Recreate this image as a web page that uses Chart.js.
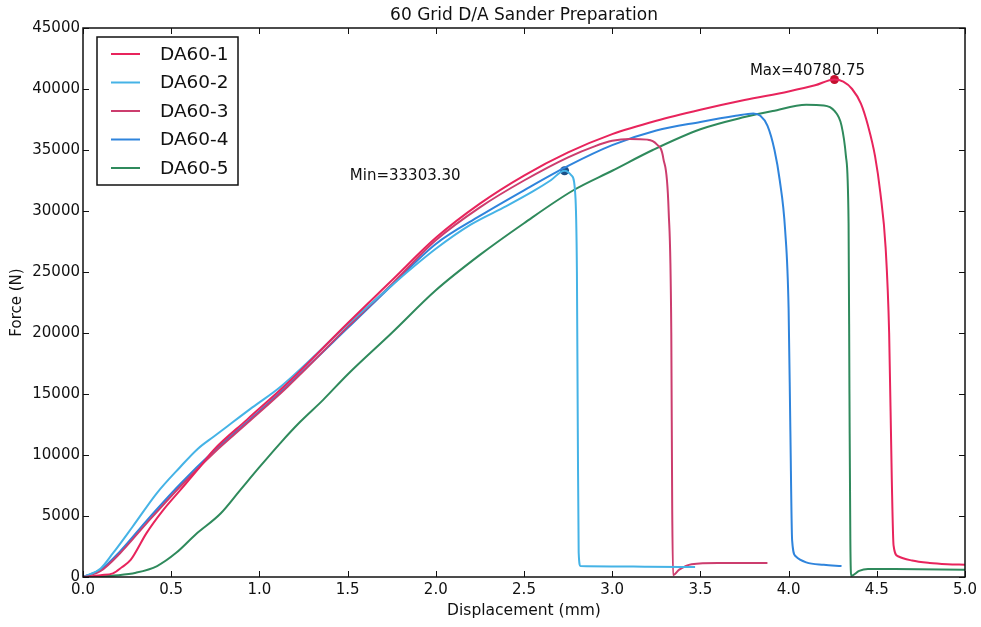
<!DOCTYPE html>
<html>
<head>
<meta charset="utf-8">
<script src="https://cdn.jsdelivr.net/npm/chart.js@4/dist/chart.umd.min.js"></script>
<style>
  html, body { margin: 0; padding: 0; background: #fff; }
  #wrap { width: 981px; height: 627px; }
</style>
</head>
<body>
<div id="wrap"><canvas id="forceChart" width="981" height="627"></canvas></div>
<script>
const chartTitle = "60 Grid D/A Sander Preparation";
const xLabel = "Displacement (mm)";
const yLabel = "Force (N)";
const seriesNames = ["DA60-1", "DA60-2", "DA60-3", "DA60-4", "DA60-5"];
const seriesColors = ["#e8245c", "#45b3e6", "#cc3d6e", "#2f84dc", "#2f8a5c"];

// displacement (mm) / force (N) per specimen
const da601X = [0, 0.1, 0.17, 0.22, 0.27, 0.36, 0.45, 0.55, 0.65, 0.74, 0.93, 1.16, 1.5, 1.75, 2.0, 2.25, 2.5, 2.75, 3.0, 3.25, 3.5, 3.75, 4.0, 4.15, 4.26, 4.31, 4.36, 4.41, 4.45, 4.49, 4.52, 4.55, 4.57, 4.585, 4.595, 4.62, 4.7, 4.8, 4.9, 5.0];
const da601Y = [0, 150, 300, 800, 1400, 3600, 5400, 7100, 8800, 10400, 12900, 15900, 20800, 24300, 27800, 30600, 32900, 34800, 36300, 37400, 38300, 39100, 39800, 40300, 40780.75, 40600, 40000, 38800, 37000, 34500, 31500, 27000, 20000, 8000, 2600, 1700, 1350, 1150, 1050, 1000];

const da602X = [0, 0.1, 0.17, 0.28, 0.42, 0.55, 0.65, 0.74, 0.85, 0.96, 1.12, 1.5, 1.75, 2.0, 2.2, 2.4, 2.55, 2.65, 2.73, 2.77, 2.79, 2.8, 2.805, 2.81, 2.82, 3.0, 3.2, 3.47];
const da602Y = [0, 700, 1950, 4100, 6900, 9000, 10500, 11500, 12700, 13900, 15600, 20700, 23900, 26900, 28900, 30400, 31600, 32500, 33303.30, 32900, 31500, 25000, 12000, 2000, 900, 870, 840, 820];

const da603X = [0, 0.1, 0.21, 0.36, 0.55, 0.74, 0.93, 1.16, 1.5, 1.75, 2.0, 2.25, 2.5, 2.75, 2.9, 3.0, 3.1, 3.2, 3.25, 3.29, 3.32, 3.335, 3.34, 3.345, 3.38, 3.45, 3.6, 3.88];
const da603Y = [0, 500, 1950, 4400, 7400, 10150, 12600, 15600, 20500, 24000, 27600, 30300, 32500, 34400, 35300, 35750, 35900, 35850, 35500, 34300, 30000, 20000, 6000, 150, 600, 1050, 1150, 1150];

const da604X = [0, 0.1, 0.21, 0.36, 0.55, 0.74, 0.93, 1.16, 1.5, 1.75, 2.0, 2.25, 2.5, 2.75, 3.0, 3.25, 3.5, 3.7, 3.8, 3.84, 3.88, 3.92, 3.95, 3.98, 4.0, 4.01, 4.02, 4.04, 4.1, 4.2, 4.3];
const da604Y = [0, 600, 2100, 4600, 7600, 10300, 12700, 15700, 20400, 23900, 27300, 29600, 31700, 33700, 35400, 36600, 37300, 37800, 38000, 37800, 37000, 35000, 32500, 28500, 22000, 12000, 3000, 1700, 1200, 1000, 900];

const da605X = [0, 0.2, 0.3, 0.42, 0.53, 0.64, 0.78, 0.89, 1.0, 1.12, 1.23, 1.36, 1.5, 1.75, 2.0, 2.25, 2.5, 2.78, 3.0, 3.23, 3.5, 3.75, 3.91, 4.1, 4.2, 4.26, 4.3, 4.325, 4.34, 4.345, 4.35, 4.355, 4.4, 4.45, 4.6, 5.0];
const da605Y = [0, 150, 350, 900, 2000, 3500, 5200, 7100, 9000, 11000, 12700, 14500, 16600, 20000, 23500, 26400, 29000, 31700, 33300, 35000, 36700, 37700, 38200, 38700, 38650, 38200, 37000, 34500, 29000, 15000, 3000, 100, 500, 650, 650, 600];

const maxPoint = { x: 4.26, y: 40780.75 };
const minPoint = { x: 2.73, y: 33303.30 };
const maxText = "Max=40780.75";
const minText = "Min=33303.30";

const seriesX = [da601X, da602X, da603X, da604X, da605X];
const seriesY = [da601Y, da602Y, da603Y, da604Y, da605Y];

Chart.defaults.font.family = "'DejaVu Sans', sans-serif";
Chart.defaults.color = "#111";

const datasets = seriesNames.map((name, i) => ({
  label: name,
  data: seriesX[i].map((x, j) => ({ x: x, y: seriesY[i][j] })),
  borderColor: seriesColors[i],
  borderWidth: 2,
  pointRadius: 0,
  showLine: true,
  fill: false,
  cubicInterpolationMode: "monotone"
}));

datasets.push({
  label: "max",
  data: [maxPoint],
  pointRadius: 4.5,
  pointBackgroundColor: "#c4102e",
  pointBorderWidth: 0,
  showLine: false
});
datasets.push({
  label: "min",
  data: [minPoint],
  pointRadius: 4.5,
  pointBackgroundColor: "#1c4f86",
  pointBorderWidth: 0,
  showLine: false
});

// frame, inside ticks, legend box, title and annotations
const decorPlugin = {
  id: "decor",
  afterDraw(chart) {
    const { ctx, chartArea: a, scales } = chart;
    ctx.save();

    // title
    ctx.fillStyle = "#111";
    ctx.font = "17px 'DejaVu Sans'";
    ctx.textAlign = "center";
    ctx.textBaseline = "middle";
    ctx.fillText(chartTitle, (a.left + a.right) / 2, 16);

    // frame
    ctx.strokeStyle = "#111";
    ctx.lineWidth = 1.5;
    ctx.strokeRect(a.left, a.top, a.right - a.left, a.bottom - a.top);

    // ticks pointing inwards on all sides
    ctx.lineWidth = 1;
    scales.x.ticks.forEach(t => {
      const px = Math.round(scales.x.getPixelForValue(t.value)) + 0.5;
      ctx.beginPath();
      ctx.moveTo(px, a.bottom); ctx.lineTo(px, a.bottom - 6);
      ctx.moveTo(px, a.top); ctx.lineTo(px, a.top + 6);
      ctx.stroke();
    });
    scales.y.ticks.forEach(t => {
      const py = Math.round(scales.y.getPixelForValue(t.value)) + 0.5;
      ctx.beginPath();
      ctx.moveTo(a.left, py); ctx.lineTo(a.left + 6, py);
      ctx.moveTo(a.right, py); ctx.lineTo(a.right - 6, py);
      ctx.stroke();
    });

    // legend
    const lx = a.left + 14, ly = a.top + 9, lw = 141, lh = 148;
    ctx.fillStyle = "#fff";
    ctx.fillRect(lx, ly, lw, lh);
    ctx.strokeStyle = "#111";
    ctx.lineWidth = 1.5;
    ctx.strokeRect(lx, ly, lw, lh);
    ctx.font = "18.5px 'DejaVu Sans'";
    ctx.textAlign = "left";
    seriesNames.forEach((name, i) => {
      const cy = ly + 17 + i * 28.5;
      ctx.strokeStyle = seriesColors[i];
      ctx.lineWidth = 2;
      ctx.beginPath();
      ctx.moveTo(lx + 14, cy); ctx.lineTo(lx + 43, cy);
      ctx.stroke();
      ctx.fillStyle = "#111";
      ctx.fillText(name, lx + 63, cy + 1);
    });

    // point annotations
    ctx.font = "15px 'DejaVu Sans'";
    ctx.fillStyle = "#111";
    const mx = scales.x.getPixelForValue(maxPoint.x);
    const my = scales.y.getPixelForValue(maxPoint.y);
    ctx.textAlign = "center";
    ctx.fillText(maxText, mx - 27, my - 8);
    const nx = scales.x.getPixelForValue(minPoint.x);
    const ny = scales.y.getPixelForValue(minPoint.y);
    ctx.textAlign = "right";
    ctx.fillText(minText, nx - 104, ny + 5);

    ctx.restore();
  }
};

const ctx = document.getElementById("forceChart").getContext("2d");
new Chart(ctx, {
  type: "scatter",
  data: { datasets: datasets },
  plugins: [decorPlugin],
  options: {
    responsive: false,
    animation: false,
    layout: { padding: { top: 28, right: 16, left: 0, bottom: 0 } },
    plugins: {
      legend: { display: false },
      title: { display: false },
      tooltip: { enabled: false }
    },
    scales: {
      x: {
        type: "linear",
        min: 0,
        max: 5,
        ticks: {
          stepSize: 0.5,
          padding: 4,
          font: { size: 15 },
          color: "#111",
          callback: v => Number(v).toFixed(1)
        },
        grid: { display: false, drawTicks: false },
        border: { display: false },
        title: { display: true, text: xLabel, font: { size: 15.5 }, color: "#111", padding: { top: 0, bottom: 7 } },
        afterFit: s => { s.height = 50; }
      },
      y: {
        type: "linear",
        min: 0,
        max: 45000,
        ticks: {
          stepSize: 5000,
          padding: 3,
          font: { size: 15 },
          color: "#111",
          callback: v => String(v)
        },
        grid: { display: false, drawTicks: false },
        border: { display: false },
        title: { display: true, text: yLabel, font: { size: 15 }, color: "#111", padding: { top: 8, bottom: 0 } },
        afterFit: s => { s.width = 83; }
      }
    }
  }
});
</script>
</body>
</html>
